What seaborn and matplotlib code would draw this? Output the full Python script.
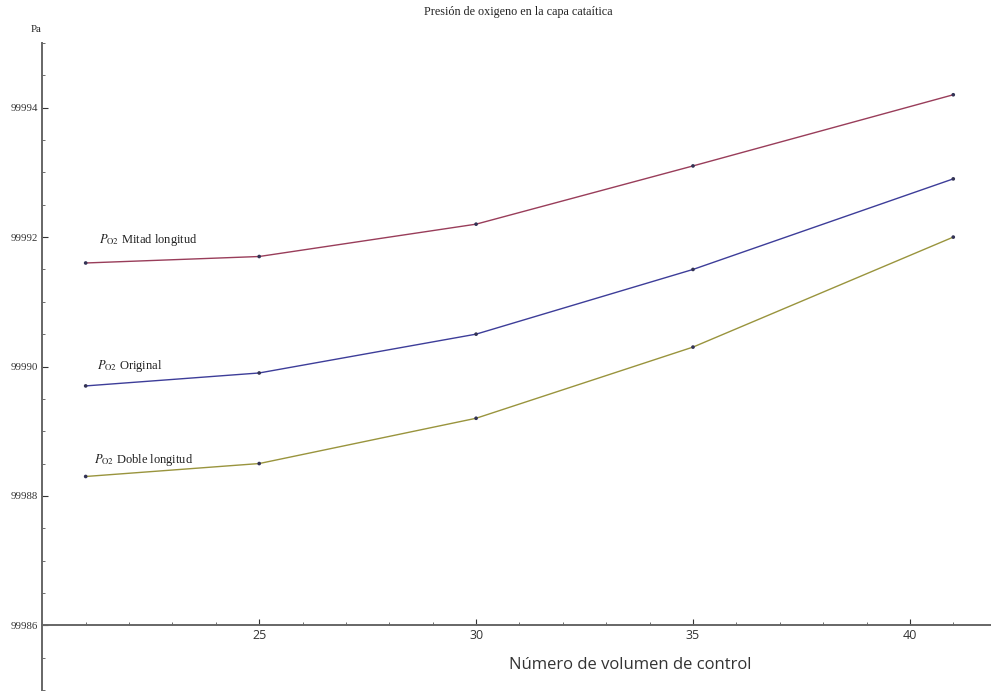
import matplotlib
matplotlib.use("Agg")
import matplotlib.pyplot as plt
import seaborn as sns
import pandas as pd
from matplotlib.ticker import MultipleLocator, FixedLocator

# ---- data ----
x_vals = [21, 25, 30, 35, 41]
mitad = [99991.6, 99991.7, 99992.2, 99993.1, 99994.2]
original = [99989.7, 99989.9, 99990.5, 99991.5, 99992.9]
doble = [99988.3, 99988.5, 99989.2, 99990.3, 99992.0]
series_names = ["Mitad longitud", "Original", "Doble longitud"]
y_ticks = [99986, 99988, 99990, 99992, 99994]
x_ticks = [25, 30, 35, 40]

df = pd.concat([
    pd.DataFrame({"x": x_vals, "y": mitad, "serie": series_names[0]}),
    pd.DataFrame({"x": x_vals, "y": original, "serie": series_names[1]}),
    pd.DataFrame({"x": x_vals, "y": doble, "serie": series_names[2]}),
])

palette = {"Mitad longitud": "#993d5a", "Original": "#3d3d99", "Doble longitud": "#99943d"}

sns.set_style("white")
plt.rcParams["font.family"] = ["Liberation Serif", "DejaVu Serif"]
plt.rcParams["mathtext.fontset"] = "stix"

fig = plt.figure(figsize=(9.91, 6.96), dpi=100)
ax = fig.add_axes([42.3 / 991, 6 / 696, (991 - 42.3) / 991, 647 / 696])

sns.lineplot(data=df, x="x", y="y", hue="serie", palette=palette, ax=ax,
             linewidth=1.0, legend=False, sort=True)
sns.scatterplot(data=df, x="x", y="y", color="#333355", s=7, ax=ax,
                legend=False, edgecolor="none", zorder=3)

ax.set_xlim(20, 41.87)
ax.set_ylim(99985, 99995)

for s in ["top", "right"]:
    ax.spines[s].set_visible(False)
ax.spines["left"].set_position(("data", 20))
ax.spines["bottom"].set_position(("data", 99986))
for s in ["left", "bottom"]:
    ax.spines[s].set_color("#666666")
    ax.spines[s].set_linewidth(1.4)

ax.xaxis.set_major_locator(FixedLocator(x_ticks))
ax.xaxis.set_minor_locator(MultipleLocator(1))
ax.yaxis.set_major_locator(FixedLocator(y_ticks))
ax.yaxis.set_minor_locator(MultipleLocator(0.5))
ax.set_xticklabels([str(t) for t in x_ticks], fontsize=9, family="Open Sans", color="#333333")
ax.set_yticklabels([str(t) for t in y_ticks], fontsize=7.8, color="#333333")
ax.tick_params(axis="both", which="major", direction="in", length=4, width=0.8, color="#333333", pad=3)
ax.tick_params(axis="both", which="minor", direction="in", length=2.5, width=0.6, color="#555555")
ax.tick_params(axis="x", which="both", bottom=True, top=False, direction="in")
ax.tick_params(axis="y", which="both", left=True, right=False)
ax.set_xlabel("")
ax.set_ylabel("")

# axis labels and title
fig.text(630 / 991, 1 - 665 / 696, "Número de volumen de control", fontsize=12,
         family="Open Sans", color="#333333", ha="center", va="center")
fig.text(518 / 991, 1 - 12 / 696, "Presión de oxigeno en la capa cataítica", fontsize=8.7,
         color="#222222", ha="center", va="center")
fig.text(36 / 991, 1 - 30 / 696, "Pa", fontsize=7.8, color="#222222", ha="center", va="center")

# curve labels
labels = [r"$P_{\mathrm{O2}}$ Mitad longitud", r"$P_{\mathrm{O2}}$ Original", r"$P_{\mathrm{O2}}$ Doble longitud"]
label_y = [99991.95, 99990.0, 99988.55]
label_x = [21.3, 21.25, 21.2]
for lx, ly, lt in zip(label_x, label_y, labels):
    ax.text(lx, ly, lt, fontsize=9, color="#222222", ha="left", va="center")

fig.savefig("out.png", dpi=100)
